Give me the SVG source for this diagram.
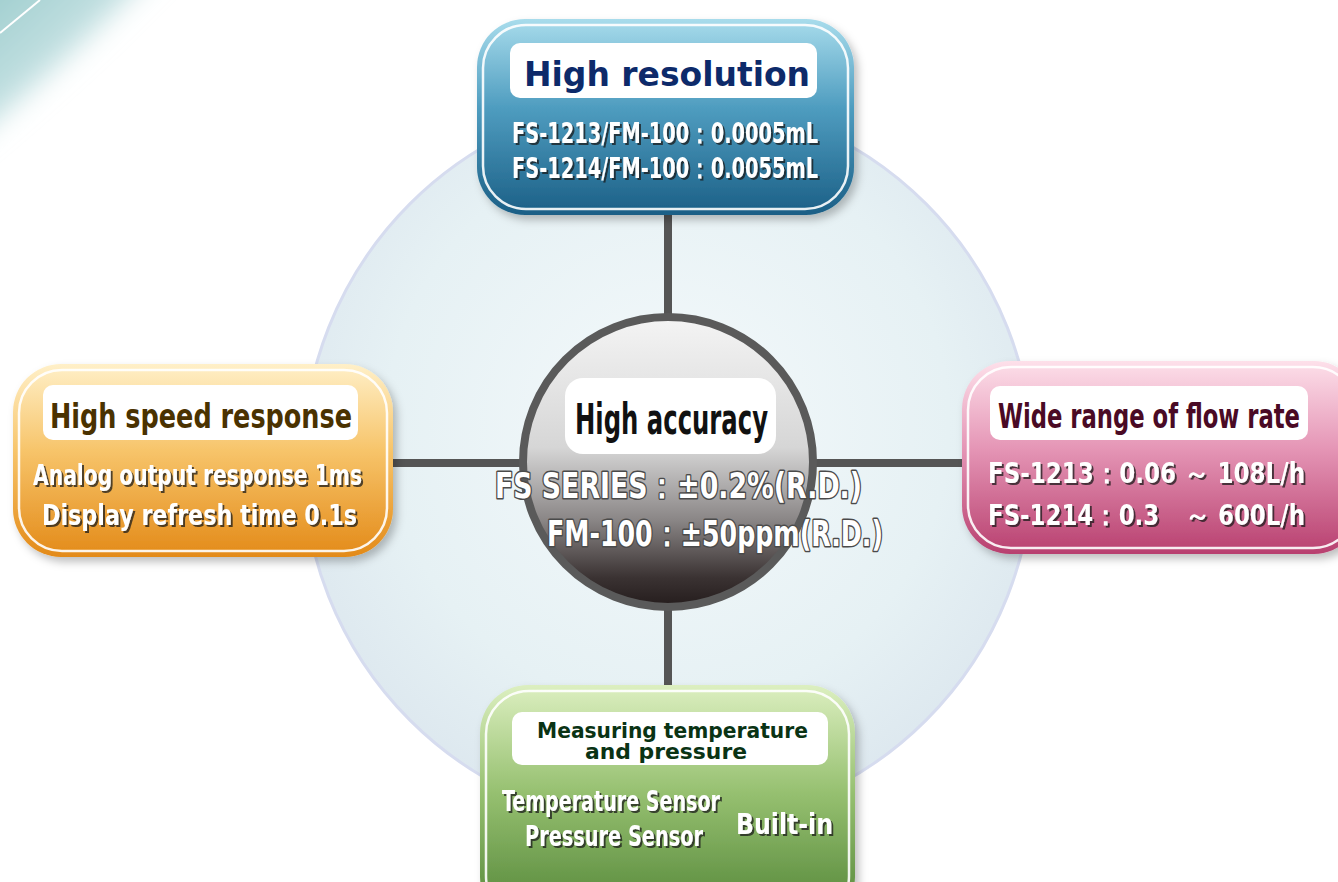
<svg xmlns="http://www.w3.org/2000/svg" width="1338" height="882" viewBox="0 0 1338 882">
<defs>
<style>
.t{font-family:"DejaVu Sans Condensed","DejaVu Sans","Liberation Sans",sans-serif;font-weight:bold}
.ttl{font-size:34px}
.body{font-size:28px;fill:#fff;filter:url(#sh)}
.tbox{fill:#fff}
.inner{fill:none;stroke:#fff;stroke-width:2.5;opacity:0.9}
.conn{stroke:#555;stroke-width:8;fill:none}
</style>
<filter id="sh" x="-10%" y="-30%" width="120%" height="160%">
<feDropShadow dx="2" dy="2" stdDeviation="0.6" flood-color="#1a1a1a" flood-opacity="0.75"/>
</filter>
<filter id="boxsh" x="-10%" y="-10%" width="125%" height="125%">
<feDropShadow dx="4" dy="5" stdDeviation="4" flood-color="#000" flood-opacity="0.25"/>
</filter>
<filter id="blur" x="-50%" y="-50%" width="200%" height="200%">
<feGaussianBlur stdDeviation="14"/>
</filter>
<radialGradient id="bg" cx="0.5" cy="0.45" r="0.55">
<stop offset="0" stop-color="#f4f9fb"/>
<stop offset="0.7" stop-color="#e6f1f4"/>
<stop offset="1" stop-color="#dde8ef"/>
</radialGradient>
<linearGradient id="gBlue" x1="0" y1="0" x2="0" y2="1">
<stop offset="0" stop-color="#a8dcec"/>
<stop offset="0.45" stop-color="#4f9dc0"/>
<stop offset="1" stop-color="#1b5f86"/>
</linearGradient>
<linearGradient id="gOrange" x1="0" y1="0" x2="0" y2="1">
<stop offset="0" stop-color="#fff0c8"/>
<stop offset="0.45" stop-color="#f7c46a"/>
<stop offset="1" stop-color="#e38a18"/>
</linearGradient>
<linearGradient id="gPink" x1="0" y1="0" x2="0" y2="1">
<stop offset="0" stop-color="#fde0ea"/>
<stop offset="0.45" stop-color="#e596b6"/>
<stop offset="1" stop-color="#b8406f"/>
</linearGradient>
<linearGradient id="gGreen" x1="0" y1="0" x2="0" y2="1">
<stop offset="0" stop-color="#dcefc0"/>
<stop offset="0.45" stop-color="#96c070"/>
<stop offset="1" stop-color="#4f8235"/>
</linearGradient>
<linearGradient id="gSphere" x1="0" y1="0" x2="0" y2="1">
<stop offset="0" stop-color="#f4f4f4"/>
<stop offset="0.45" stop-color="#d6d6d6"/>
<stop offset="0.7" stop-color="#8a8686"/>
<stop offset="0.9" stop-color="#3a3232"/>
<stop offset="1" stop-color="#241c1c"/>
</linearGradient>
<linearGradient id="gCorner" x1="0" y1="0" x2="1" y2="1">
<stop offset="0" stop-color="#8fc6c6"/>
<stop offset="0.6" stop-color="#cfe6e8"/>
<stop offset="1" stop-color="#ffffff"/>
</linearGradient>
</defs>
<rect width="1338" height="882" fill="#ffffff"/>
<path d="M-40 -40 H165 Q80 50 -40 150 Z" fill="url(#gCorner)" filter="url(#blur)"/>
<line x1="0" y1="33" x2="40" y2="0" stroke="#fff" stroke-width="2"/>
<circle cx="668" cy="462" r="365" fill="url(#bg)" stroke="#d6dcef" stroke-width="3"/>

<g id="connectors">
<line class="conn" x1="668" y1="212" x2="668" y2="318"/>
<line class="conn" x1="390" y1="463" x2="970" y2="463"/>
<line class="conn" x1="668" y1="606" x2="668" y2="690"/>
</g>

<g id="center">
<circle cx="668" cy="462" r="145" fill="url(#gSphere)" stroke="#5a5a5a" stroke-width="8"/>
<rect class="tbox" x="565" y="378" width="211" height="76" rx="18"/>
<text class="t" x="575" y="434" font-size="42" fill="#111" textLength="193" lengthAdjust="spacingAndGlyphs">High accuracy</text>
<g class="t" font-size="36" fill="#fff" stroke="#4a4a4a" stroke-width="3" paint-order="stroke" stroke-linejoin="round">
<text x="495" y="498" textLength="367" lengthAdjust="spacingAndGlyphs">FS SERIES：±0.2%(R.D.)</text>
<text x="547" y="546" textLength="336" lengthAdjust="spacingAndGlyphs">FM-100：±50ppm(R.D.)</text>
</g>
</g>

<g id="top">
<rect x="477" y="19" width="377" height="196" rx="48" fill="url(#gBlue)" filter="url(#boxsh)"/>
<rect class="inner" x="483" y="25" width="365" height="184" rx="43"/>
<rect class="tbox" x="510" y="43" width="307" height="55" rx="10"/>
<text class="t ttl" x="524" y="86" fill="#0d2a6a" font-size="38" textLength="286" lengthAdjust="spacingAndGlyphs">High resolution</text>
<text class="t body" x="512" y="143" textLength="306" lengthAdjust="spacingAndGlyphs">FS-1213/FM-100：0.0005mL</text>
<text class="t body" x="512" y="178" textLength="306" lengthAdjust="spacingAndGlyphs">FS-1214/FM-100：0.0055mL</text>
</g>

<g id="left">
<rect x="13" y="364" width="380" height="193" rx="48" fill="url(#gOrange)" filter="url(#boxsh)"/>
<rect class="inner" x="19" y="370" width="368" height="181" rx="43"/>
<rect class="tbox" x="43" y="385" width="315" height="55" rx="10"/>
<text class="t ttl" x="50" y="428" fill="#4a3200" font-size="36" textLength="302" lengthAdjust="spacingAndGlyphs">High speed response</text>
<text class="t body" x="33" y="485" textLength="329" lengthAdjust="spacingAndGlyphs">Analog output response 1ms</text>
<text class="t body" x="42" y="525" textLength="315" lengthAdjust="spacingAndGlyphs">Display refresh time 0.1s</text>
</g>

<g id="right">
<rect x="962" y="361" width="400" height="193" rx="48" fill="url(#gPink)" filter="url(#boxsh)"/>
<rect class="inner" x="968" y="367" width="388" height="181" rx="43"/>
<rect class="tbox" x="990" y="386" width="318" height="54" rx="10"/>
<text class="t ttl" x="998" y="428" fill="#4a0a25" font-size="35" textLength="302" lengthAdjust="spacingAndGlyphs">Wide range of flow rate</text>
<text class="t body" x="988" y="483" textLength="317" lengthAdjust="spacingAndGlyphs">FS-1213：0.06 ～ 108L/h</text>
<text class="t body" x="988" y="525" textLength="317" lengthAdjust="spacingAndGlyphs">FS-1214：0.3　～ 600L/h</text>
</g>

<g id="bottom">
<rect x="480" y="685" width="375" height="240" rx="48" fill="url(#gGreen)" filter="url(#boxsh)"/>
<rect class="inner" x="486" y="691" width="363" height="228" rx="43"/>
<rect class="tbox" x="512" y="712" width="316" height="53" rx="10"/>
<text class="t" x="537" y="738" font-size="21" fill="#0a3314" textLength="271" lengthAdjust="spacingAndGlyphs">Measuring temperature</text>
<text class="t" x="585" y="759" font-size="21" fill="#0a3314" textLength="162" lengthAdjust="spacingAndGlyphs">and pressure</text>
<text class="t body" x="502" y="811" font-size="23" textLength="218" lengthAdjust="spacingAndGlyphs">Temperature Sensor</text>
<text class="t body" x="525" y="846" font-size="23" textLength="178" lengthAdjust="spacingAndGlyphs">Pressure Sensor</text>
<text class="t body" x="736" y="834" font-size="23" textLength="97" lengthAdjust="spacingAndGlyphs">Built-in</text>
</g>
</svg>
